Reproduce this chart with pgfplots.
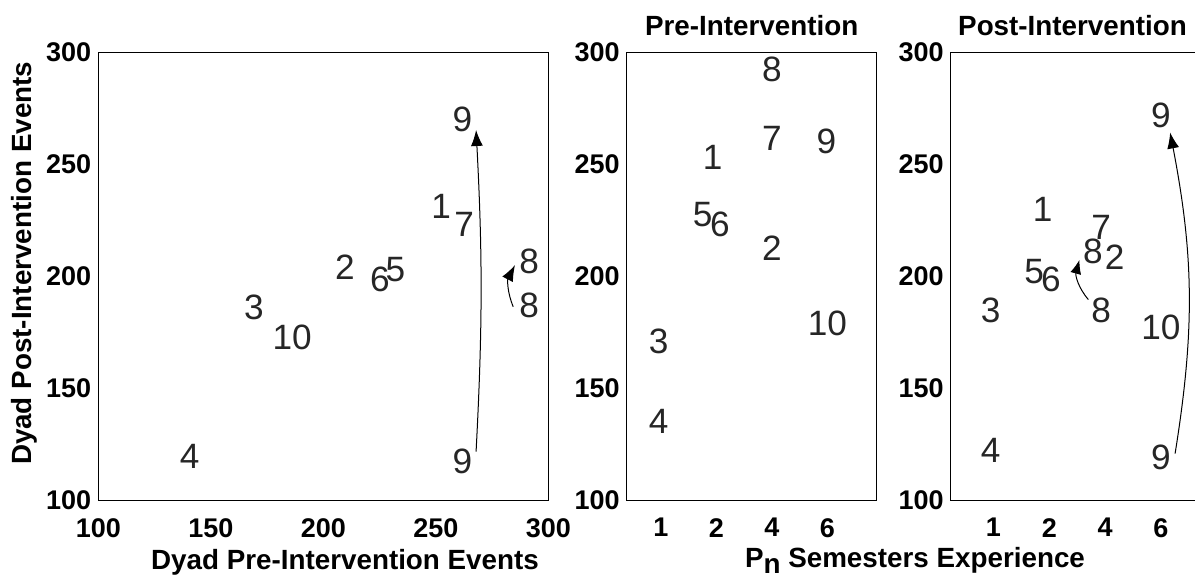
\documentclass[border=0pt]{standalone}
\usepackage{fontspec}
\setmainfont{Liberation Sans}
\usepackage{pgfplots}
\pgfplotsset{compat=1.18}
\usepackage{pgfplotstable}
\usetikzlibrary{arrows.meta}

\pgfplotstableread{
x y lab
261.8 270.3 9
252.4 231.2 1
262.6 223.5 7
209.6 204.1 2
232.0 203.0 5
225.2 198.7 6
169.2 186.3 3
186.2 172.7 10
140.6 120.0 4
261.8 117.4 9
291.5 206.7 8
291.5 187.1 8
}\scatterA

\pgfplotstableread{
x y lab
3.00 292.6 8
3.00 261.8 7
3.98 260.2 9
1.93 253.3 1
1.75 227.9 5
2.06 223.4 6
3.00 212.6 2
4.00 179.2 10
0.96 171.0 3
0.96 135.6 4
}\scatterPre

\pgfplotstableread{
x y lab
4.00 271.8 9
1.88 230.0 1
2.93 221.8 7
2.78 211.1 8
3.17 208.7 2
1.73 202.1 5
2.03 198.9 6
2.93 185.0 8
0.95 185.0 3
4.00 177.5 10
0.95 122.6 4
4.00 119.3 9
}\scatterPost

\tikzset{arr/.style={line width=0.5pt, -{Latex[length=8pt,width=6pt]}}}
\pgfplotsset{
  panel/.style={
    scale only axis, height=224pt, ymin=100, ymax=300, ytick={100,150,...,300},
    axis line style={line width=0.6pt},
    major tick length=0pt, tick style={draw=none},
    tick label style={font=\fontsize{13.5}{14}\selectfont\bfseries},
    xticklabel style={yshift=-5.3pt},
    /pgf/number format/assume math mode=true,
    clip=false, anchor=south west,
  },
  lbl/.style={only marks, mark=none, nodes near coords, point meta=explicit symbolic,
    every node near coord/.append style={anchor=center, inner sep=0pt,
      font=\fontsize{17.6}{18}\selectfont, text=black!85}},
}

\begin{document}
\begin{tikzpicture}
\begin{axis}[panel, at={(49.15pt,37.15pt)}, width=225pt,
  xmin=100, xmax=300, xtick={100,150,...,300}]
\addplot[lbl] table[x=x, y=y, meta=lab] {\scatterA};
\draw[arr] (axis cs:267.9,121.9) to[bend right=3] (axis cs:267.9,265.5);
\draw[arr] (axis cs:284.4,186.6) to[bend left=25] (axis cs:285.2,205.2);
\end{axis}

\begin{axis}[panel, at={(313.35pt,37.15pt)}, width=125pt,
  xmin=0.382, xmax=4.887, xtick={1,2,3,4}, xticklabels={1,2,4,6}]
\addplot[lbl] table[x=x, y=y, meta=lab] {\scatterPre};
\end{axis}

\begin{axis}[panel, at={(475.35pt,37.15pt)}, width=122.65pt,
  xmin=0.233, xmax=4.629, xtick={1,2,3,4}, xticklabels={1,2,4,6}]
\addplot[lbl] table[x=x, y=y, meta=lab] {\scatterPost};
\draw[arr] (axis cs:4.254,121) to[bend right=10] (axis cs:4.165,264.4);
\draw[line width=0.5pt, -{Latex[length=7pt,width=5.5pt]}] (axis cs:2.70,189.8) to[bend left=28] (axis cs:2.54,207.5);
\end{axis}

\begin{scope}[every node/.style={font=\fontsize{13.9}{14}\selectfont\bfseries, inner sep=0pt}]
\node[anchor=base] at (172.5pt,3pt) {Dyad Pre-Intervention Events};
\node[anchor=base] at (457.5pt,3.6pt) {P\raisebox{-0.2em}{n} Semesters Experience};
\node[anchor=base, rotate=90] at (15.75pt,155.8pt) {Dyad Post-Intervention Events};
\node[anchor=base] at (375.85pt,269.8pt) {Pre-Intervention};
\node[anchor=base] at (536.25pt,269.8pt) {Post-Intervention};
\end{scope}

\pgfresetboundingbox
\path[use as bounding box] (0,0) rectangle (597.5pt,287.5pt);
\end{tikzpicture}
\end{document}
